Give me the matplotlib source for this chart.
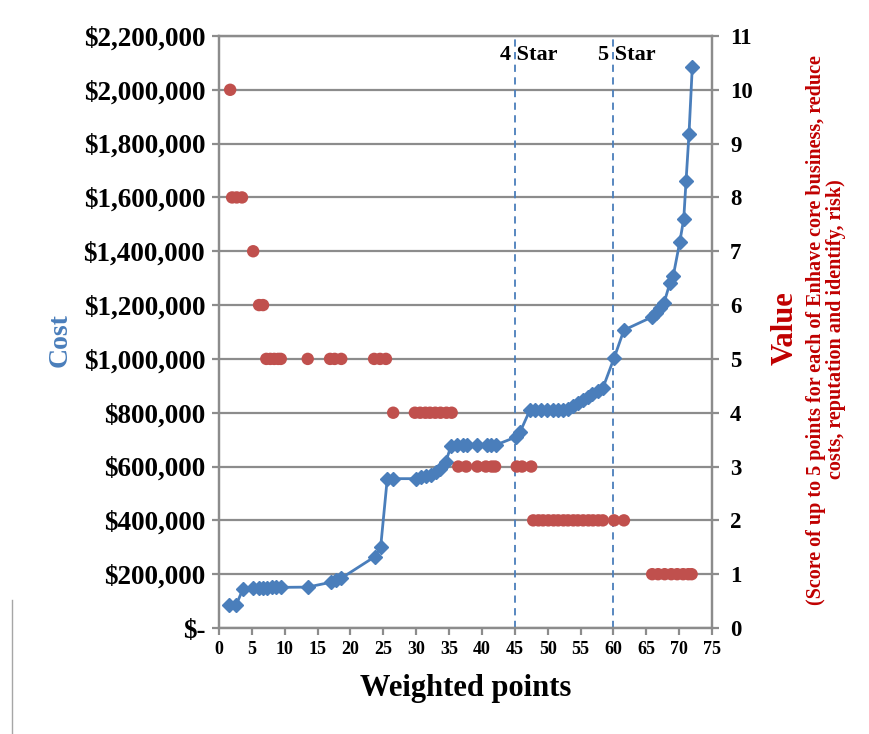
import matplotlib
matplotlib.use("Agg")
import matplotlib.pyplot as plt
from matplotlib.ticker import FuncFormatter, MultipleLocator
from matplotlib.lines import Line2D

# Cumulative cost curve (weighted points vs. cost in $)
cost_points = [1.5, 2.6, 3.65, 5.2, 6.1, 6.7, 7.3, 8.0, 8.6, 9.4, 13.5, 17.0, 17.8, 18.6,
               23.7, 24.6, 25.6, 26.5, 30.0, 30.7, 31.5, 32.2, 33.0, 33.6, 34.5, 35.3,
               36.2, 37.1, 37.7, 39.3, 40.8, 41.4, 42.1, 45.2, 45.8, 47.3, 48.1, 49.0,
               49.9, 50.8, 51.6, 52.4, 53.1, 53.8, 54.6, 55.3, 56.1, 56.8, 57.6, 58.4,
               60.1, 61.6, 65.9, 66.5, 67.1, 67.7, 68.6, 69.1, 70.1, 70.7, 71.05, 71.5, 72.0]
cost_values = [85000, 85000, 145000, 148000, 150000, 150000, 150000, 151000, 151000, 151000,
               152000, 170000, 178000, 185000, 265000, 302000, 555000, 555000, 555000, 560000,
               564000, 570000, 578000, 590000, 617000, 677000, 680000, 680000, 680000, 680000,
               680000, 680000, 680000, 710000, 728000, 810000, 810000, 810000, 810000, 810000,
               810000, 810000, 815000, 825000, 835000, 848000, 858000, 868000, 880000, 892000,
               1003000, 1107000, 1156000, 1170000, 1190000, 1208000, 1282000, 1308000,
               1435000, 1520000, 1661000, 1836000, 2085000]

# Value scores (weighted points vs. value score)
value_points = [1.7, 2.0, 2.7, 3.5, 5.2, 6.1, 6.7,
                7.2, 7.8, 8.4, 9.0, 9.4, 13.5, 16.9, 17.6, 18.6, 23.6, 24.5, 25.4,
                26.5, 29.8, 30.6, 31.4, 32.1, 32.9, 33.7, 34.6, 35.4,
                36.4, 37.6, 39.3, 40.6, 41.5, 42.0, 45.3, 46.1, 47.5,
                47.8, 48.6, 49.3, 50.1, 50.9, 51.6, 52.4, 53.1, 53.9, 54.6, 55.4, 56.2,
                56.9, 57.7, 58.4, 60.1, 61.6,
                65.9, 66.8, 67.8, 68.8, 69.7, 70.6, 71.4, 71.9]
value_scores = [10, 8, 8, 8, 7, 6, 6,
                5, 5, 5, 5, 5, 5, 5, 5, 5, 5, 5, 5,
                4, 4, 4, 4, 4, 4, 4, 4, 4,
                3, 3, 3, 3, 3, 3, 3, 3, 3,
                2, 2, 2, 2, 2, 2, 2, 2, 2, 2, 2, 2,
                2, 2, 2, 2, 2,
                1, 1, 1, 1, 1, 1, 1, 1]

star_levels = [45, 60]
star_labels = ["4 Star", "5 Star"]

BLUE = "#4A7EBB"
RED = "#C0504D"
DARKRED = "#C00000"
GRID = "#8C8C8C"
SERIF = ["Liberation Serif", "DejaVu Serif"]

fig = plt.figure(figsize=(8.7, 7.34), dpi=100)
ax = fig.add_axes([0.2517, 0.1444, 0.5667, 0.8066])
ax2 = ax.twinx()

ax.set_xlim(0, 75)
ax.set_ylim(0, 2200000)
ax2.set_ylim(0, 11)

# horizontal gridlines
ax.yaxis.set_major_locator(MultipleLocator(200000))
ax.grid(axis="y", color=GRID, linewidth=1.6)
ax.set_axisbelow(True)

# value dots on secondary axis
ax2.scatter(value_points, value_scores, s=80, color=RED, edgecolors="none", zorder=3)

# cost curve
ax.plot(cost_points, cost_values, color=BLUE, linewidth=2.0, marker="D",
        markersize=7.5, markerfacecolor=BLUE, markeredgecolor=BLUE, zorder=4)

# star level markers
for lv, lab in zip(star_levels, star_labels):
    ax.axvline(lv, color=BLUE, linestyle=(0, (4, 3)), linewidth=1.3, zorder=2)
    ax.text(lv - 2.3, 2130000, lab, ha="left", va="center", fontsize=16,
            fontweight="bold", family=SERIF, color="black")

# axes styling
for a in (ax, ax2):
    for side in ("left", "right", "top", "bottom"):
        a.spines[side].set_color(GRID)
        a.spines[side].set_linewidth(1.6)

def money(v, pos):
    if v == 0:
        return "$-"
    return "${:,.0f}".format(v)

ax.yaxis.set_major_formatter(FuncFormatter(money))
ax.xaxis.set_major_locator(MultipleLocator(5))
ax2.yaxis.set_major_locator(MultipleLocator(1))

ax.tick_params(axis="y", direction="out", length=5, width=1.6, color=GRID, pad=5)
ax.tick_params(axis="x", direction="out", length=5, width=1.6, color=GRID, pad=4)
ax2.tick_params(axis="y", direction="out", length=5, width=1.6, color=GRID, pad=8)

for lbl in ax.get_yticklabels():
    lbl.set_fontfamily(SERIF); lbl.set_fontweight("bold"); lbl.set_fontsize(19.5)
for lbl in ax2.get_yticklabels():
    lbl.set_fontfamily(SERIF); lbl.set_fontweight("bold"); lbl.set_fontsize(16.5)
for lbl in ax.get_xticklabels():
    lbl.set_fontfamily(SERIF); lbl.set_fontweight("bold"); lbl.set_fontsize(13)

ax.set_xlabel("Weighted points", fontsize=22, fontweight="bold", family=SERIF, labelpad=12)

fig.text(0.069, 0.537, "Cost", rotation=90, ha="center", va="center", fontsize=20,
         fontweight="bold", family=SERIF, color=BLUE)
fig.text(0.903, 0.553, "Value", rotation=90, ha="center", va="center", fontsize=22,
         fontweight="bold", family=SERIF, color=DARKRED)
fig.text(0.949, 0.551,
         "(Score of up to 5 points for each of Enhave core business, reduce\ncosts, reputation and identify, risk)",
         rotation=90, ha="center", va="center", fontsize=14.5, fontweight="bold",
         family=SERIF, color=DARKRED, multialignment="center", linespacing=1.0)

# left edge of chart frame
fig.add_artist(Line2D([12 / 870, 12 / 870], [0, 134 / 734], transform=fig.transFigure,
                      color="#A6A6A6", linewidth=1.0))

fig.savefig("out.png", dpi=100)
